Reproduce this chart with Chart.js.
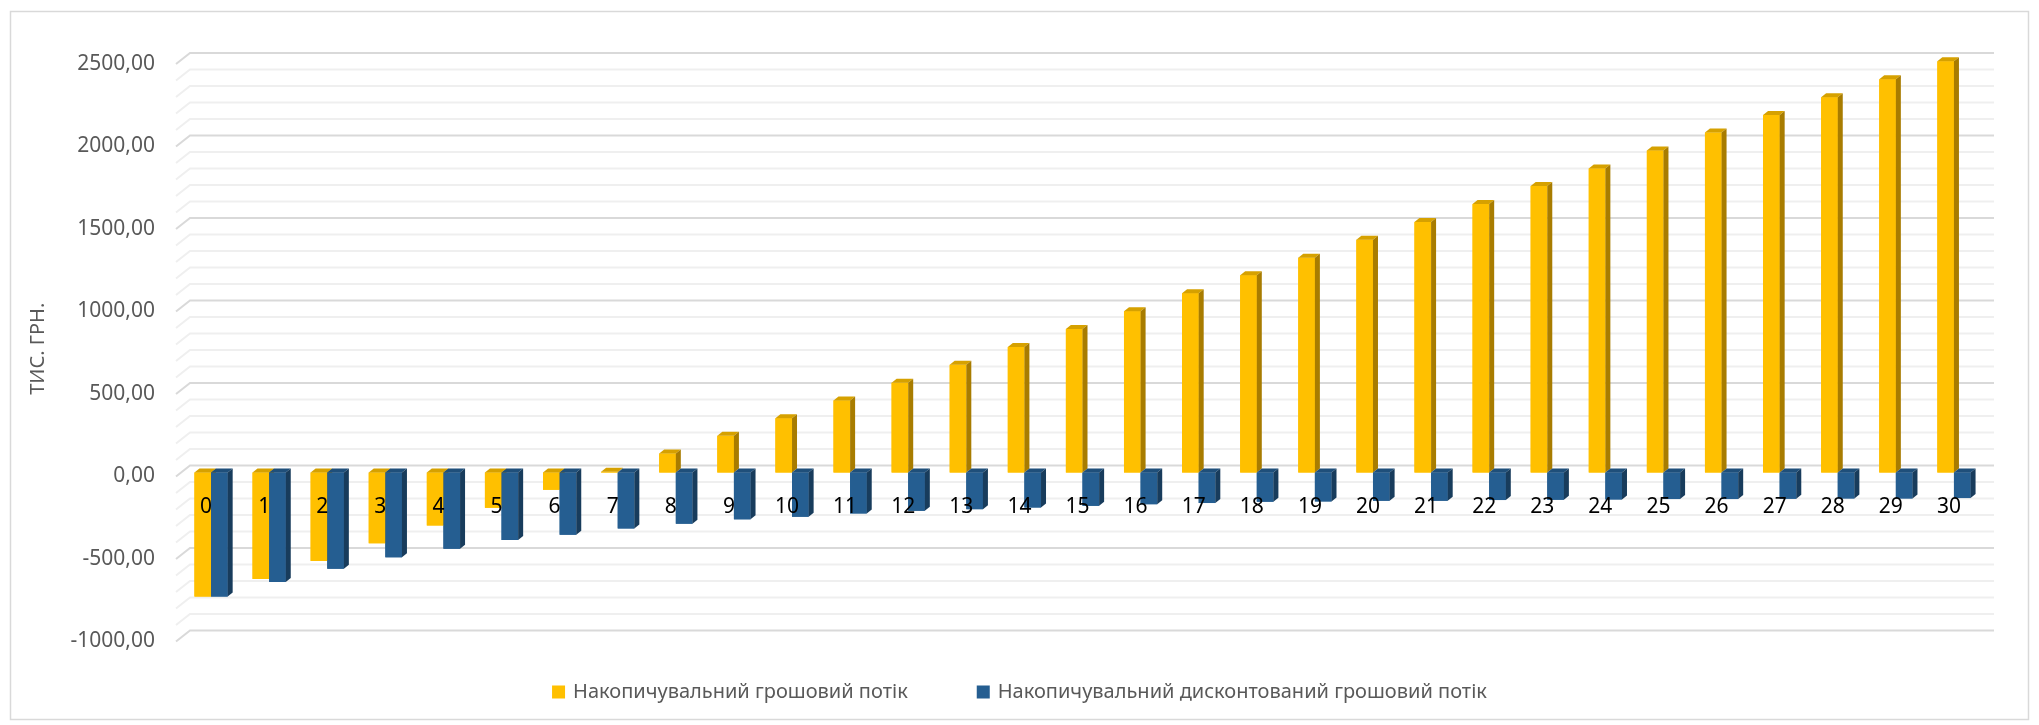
<!DOCTYPE html>
<html>
<head>
<meta charset="utf-8">
<script src="https://cdn.jsdelivr.net/npm/chart.js@4.4.0/dist/chart.umd.min.js"></script>
<style>
  html, body { margin: 0; padding: 0; background: #fff; }
  #wrap { width: 2039px; height: 725px; position: relative; }
</style>
</head>
<body>
<div id="wrap"><canvas id="cashChart"></canvas></div>
<script>
// years of the project
const years = ['0', '1', '2', '3', '4', '5', '6', '7', '8', '9', '10', '11', '12', '13', '14', '15',
  '16', '17', '18', '19', '20', '21', '22', '23', '24', '25', '26', '27', '28', '29', '30'];

// тис. грн.
const cumulativeCashFlow = [-752, -645, -536, -429, -321, -214, -105, 4, 115, 222, 329, 437, 544, 653, 760, 869,
  978, 1087, 1196, 1302, 1411, 1518, 1627, 1736, 1843, 1952, 2060, 2167, 2274, 2383, 2492];
const cumulativeDiscounted = [-752, -663, -583, -514, -462, -409, -377, -339, -310, -284, -268, -248, -232, -222, -212, -202,
  -192, -185, -177, -175, -171, -171, -167, -165, -163, -161, -161, -159, -157, -157, -155];

const seriesNames = ['Накопичувальний грошовий потік', 'Накопичувальний дисконтований грошовий потік'];
const axisTitle = 'ТИС. ГРН.';

const yMin = -1000, yMax = 2500, yStep = 100, yLabelStep = 500;

const faces = {
  yellow: { front: '#FFC000', top: '#D6A100', side: '#A87C00' },
  blue: { front: '#255E91', top: '#1F4F7A', side: '#183C5C' }
};
const depth = { dx: 5, dy: 4 };
const font = '"Noto Sans", "DejaVu Sans", sans-serif';

// excel-like 3d walls: slanted left wall + back wall gridlines
const wallPlugin = {
  id: 'wall3d',
  beforeDraw(chart) {
    const ctx = chart.ctx;
    ctx.save();
    ctx.strokeStyle = '#d9d9d9';
    ctx.lineWidth = 1.5;
    ctx.strokeRect(10.5, 11.5, chart.width - 21, chart.height - 17);
    ctx.restore();
  },
  beforeDatasetsDraw(chart) {
    const { ctx, chartArea, scales: { y } } = chart;
    const frontX = chartArea.left - 6, backX = chartArea.left + 8, rightX = chartArea.right + 11;
    ctx.save();
    ctx.lineWidth = 2;
    y.ticks.forEach(t => {
      const py = y.getPixelForValue(t.value);
      ctx.strokeStyle = t.value % yLabelStep === 0 ? '#d9d9d9' : '#efefef';
      ctx.beginPath();
      ctx.moveTo(frontX, py + 4);
      ctx.lineTo(backX, py - 7);
      ctx.lineTo(rightX, py - 7);
      ctx.stroke();
    });
    ctx.restore();
  }
};

// columns drawn as boxes (front, top, side), series by series so the
// blue front hides the yellow side like in excel
const boxPlugin = {
  id: 'box3d',
  afterDatasetsDraw(chart) {
    const { ctx, scales: { x, y } } = chart;
    ctx.save();
    chart.data.datasets.forEach((ds, di) => {
      const c = ds.faces;
      chart.getDatasetMeta(di).data.forEach(bar => {
        const { x: bx, y: by, base, width } = bar.getProps(['x', 'y', 'base', 'width'], true);
        const left = bx - width / 2, right = bx + width / 2;
        const topY = Math.min(by, base), botY = Math.max(by, base);
        ctx.fillStyle = c.front;
        ctx.fillRect(left, topY, width, botY - topY);
        ctx.fillStyle = c.top;
        ctx.beginPath();
        ctx.moveTo(left, topY);
        ctx.lineTo(left + depth.dx, topY - depth.dy);
        ctx.lineTo(right + depth.dx, topY - depth.dy);
        ctx.lineTo(right, topY);
        ctx.closePath();
        ctx.fill();
        ctx.fillStyle = c.side;
        ctx.beginPath();
        ctx.moveTo(right, topY);
        ctx.lineTo(right + depth.dx, topY - depth.dy);
        ctx.lineTo(right + depth.dx, botY - depth.dy);
        ctx.lineTo(right, botY);
        ctx.closePath();
        ctx.fill();
      });
    });

    // category labels sit just under the zero line, over the columns
    ctx.font = '21px ' + font;
    ctx.fillStyle = '#000';
    ctx.textAlign = 'center';
    ctx.textBaseline = 'middle';
    const ly = y.getPixelForValue(0) + 35;
    years.forEach((lab, i) => ctx.fillText(lab, x.getPixelForValue(i) - 5, ly));
    ctx.restore();
  }
};

// legend centred under the plot
const legendPlugin = {
  id: 'legendBottom',
  afterDraw(chart) {
    const ctx = chart.ctx;
    const box = 13, gapText = 8, gapItem = 69, ly = 692;
    ctx.save();
    ctx.font = '20px ' + font;
    ctx.textBaseline = 'middle';
    const items = chart.data.datasets.map(ds => ({
      text: ds.label, color: ds.backgroundColor, w: box + gapText + ctx.measureText(ds.label).width
    }));
    const total = items.reduce((s, it) => s + it.w, 0) + gapItem * (items.length - 1);
    let cx = (chart.width - total) / 2;
    items.forEach(it => {
      ctx.fillStyle = it.color;
      ctx.fillRect(cx, ly - box / 2, box, box);
      ctx.fillStyle = '#595959';
      ctx.fillText(it.text, cx + box + gapText, ly);
      cx += it.w + gapItem;
    });
    ctx.restore();
  }
};

new Chart(document.getElementById('cashChart'), {
  type: 'bar',
  data: {
    labels: years,
    datasets: [
      {
        label: seriesNames[0],
        data: cumulativeCashFlow,
        backgroundColor: faces.yellow.front,
        faces: faces.yellow
      },
      {
        label: seriesNames[1],
        data: cumulativeDiscounted,
        backgroundColor: faces.blue.front,
        faces: faces.blue
      }
    ]
  },
  options: {
    responsive: true,
    maintainAspectRatio: false,
    animation: false,
    layout: { padding: { left: 18, right: 56, top: 60, bottom: 87.5 } },
    datasets: { bar: { categoryPercentage: 0.572, barPercentage: 1.0, borderWidth: 0 } },
    plugins: {
      legend: { display: false },
      tooltip: { enabled: false }
    },
    scales: {
      x: { display: false },
      y: {
        min: yMin,
        max: yMax,
        afterFit(scale) { scale.width = 164; },
        grid: { display: false, drawTicks: false },
        border: { display: false },
        ticks: {
          stepSize: yStep,
          autoSkip: false,
          padding: 27,
          labelOffset: 4,
          color: '#595959',
          font: { family: font, size: 21 },
          callback: v => (v % yLabelStep === 0 ? v.toFixed(2).replace('.', ',') : '')
        },
        title: {
          display: true,
          text: axisTitle,
          color: '#595959',
          font: { family: font, size: 20 },
          padding: { top: 8, bottom: 0 }
        }
      }
    }
  },
  plugins: [wallPlugin, boxPlugin, legendPlugin]
});
</script>
</body>
</html>
